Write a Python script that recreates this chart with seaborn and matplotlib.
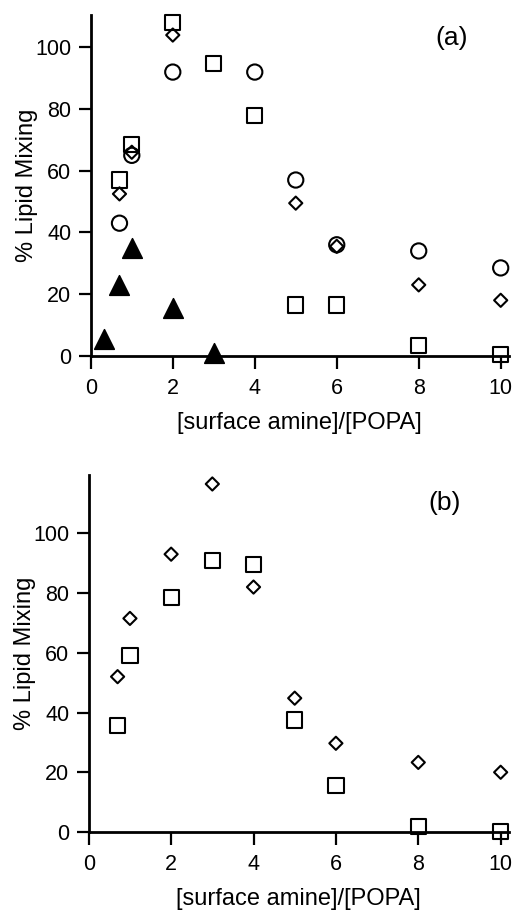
import seaborn as sns
import pandas as pd
import matplotlib.pyplot as plt

# panel (a)
a_circle_x = [0.7, 1, 2, 4, 5, 6, 8, 10]
a_circle_y = [43, 65, 92, 92, 57, 36, 34, 28.5]
a_diamond_x = [0.7, 1, 2, 5, 6, 8, 10]
a_diamond_y = [52.5, 66, 104, 49.5, 35.5, 23, 18]
a_square_x = [0.7, 1, 2, 3, 4, 5, 6, 8, 10]
a_square_y = [57, 68.5, 108, 94.7, 78, 16.5, 16.5, 3.3, 0.3]
a_tri_x = [0.33, 0.7, 1, 2, 3]
a_tri_y = [5.5, 23, 35, 15.5, 1]

# panel (b)
b_diamond_x = [0.7, 1, 2, 3, 4, 5, 6, 8, 10]
b_diamond_y = [52, 71.5, 93, 116.5, 82, 44.8, 29.7, 23.3, 20]
b_square_x = [0.7, 1, 2, 3, 4, 5, 6, 8, 10]
b_square_y = [35.7, 59, 78.4, 91, 89.6, 37.5, 15.7, 1.8, 0.3]

sns.set_style("ticks")
plt.rcParams["font.family"] = ["Liberation Sans", "DejaVu Sans"]

fig = plt.figure(figsize=(5.13, 9.10), dpi=100)
ax1 = fig.add_axes([0.177, 0.609, 0.815, 0.3745])
ax2 = fig.add_axes([0.173, 0.0857, 0.819, 0.3923])

open_kw = dict(facecolor="none", edgecolor="black", linewidth=1.5, clip_on=False, legend=False)


def series(x, y):
    return pd.DataFrame({"x": x, "y": y})


sns.scatterplot(data=series(a_circle_x, a_circle_y), x="x", y="y", marker="o", s=120, ax=ax1, **open_kw)
sns.scatterplot(data=series(a_diamond_x, a_diamond_y), x="x", y="y", marker="D", s=45, ax=ax1, **open_kw)
sns.scatterplot(data=series(a_square_x, a_square_y), x="x", y="y", marker="s", s=120, ax=ax1, **open_kw)
sns.scatterplot(data=series(a_tri_x, a_tri_y), x="x", y="y", marker="^", s=200, color="black",
                edgecolor="black", clip_on=False, legend=False, ax=ax1)

sns.scatterplot(data=series(b_diamond_x, b_diamond_y), x="x", y="y", marker="D", s=45, ax=ax2, **open_kw)
sns.scatterplot(data=series(b_square_x, b_square_y), x="x", y="y", marker="s", s=120, ax=ax2, **open_kw)

for ax, top, tag, tx, ty in [(ax1, 110.5, "(a)", 8.8, 103), (ax2, 119.5, "(b)", 8.65, 110)]:
    ax.set_xlim(0, 10.2)
    ax.set_ylim(0, top)
    ax.set_xticks([0, 2, 4, 6, 8, 10])
    ax.set_yticks([0, 20, 40, 60, 80, 100])
    sns.despine(ax=ax)
    for sp in ["left", "bottom"]:
        ax.spines[sp].set_linewidth(2)
        ax.spines[sp].set_color("black")
    ax.tick_params(length=9, width=1.6, labelsize=15.5, direction="out", pad=5,
                   colors="black")
    ax.tick_params(axis="x", pad=7)
    ax.set_xlabel("[surface amine]/[POPA]", fontsize=17, labelpad=9.5, color="black")
    ax.set_ylabel("% Lipid Mixing", fontsize=17, labelpad=-2, color="black")
    ax.text(tx, ty, tag, fontsize=19, ha="center", va="center", color="black")

fig.savefig("out.png", dpi=100)
